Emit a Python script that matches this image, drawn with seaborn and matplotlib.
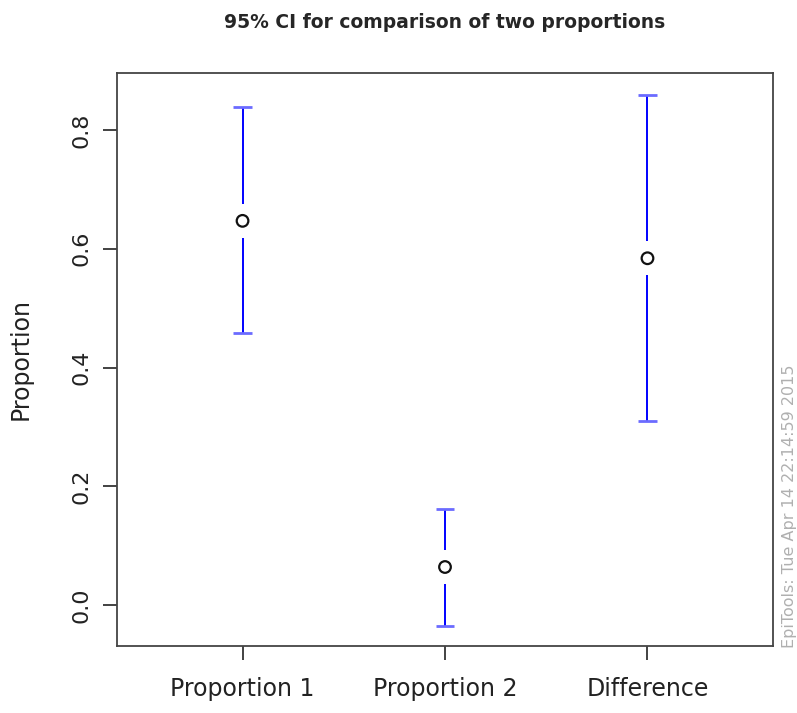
import numpy as np
import pandas as pd
import matplotlib
matplotlib.use("Agg")
import matplotlib.pyplot as plt
import seaborn as sns

# values
categories = ["Proportion 1", "Proportion 2", "Difference"]
estimates = [0.647, 0.064, 0.584]
lower = [0.458, -0.035, 0.310]
upper = [0.839, 0.162, 0.859]
y_ticks = [0.0, 0.2, 0.4, 0.6, 0.8]

sns.set_theme(style="white")
plt.rcParams["font.family"] = ["DejaVu Sans"]

df = pd.DataFrame({"group": categories, "est": estimates, "lo": lower, "hi": upper})
pos = np.arange(len(categories))

fig = plt.figure(figsize=(7.97, 7.13), dpi=100)
ax = fig.add_axes([0.1468, 0.094, 0.8231, 0.8036])

# CI lines, broken around the point marker
gap = 0.029
ax.vlines(pos, df["est"] + gap, df["hi"], color="#0000ff", lw=1.4, zorder=2)
ax.vlines(pos, df["lo"], df["est"] - gap, color="#0000ff", lw=1.4, zorder=2)
cap = 0.045
ax.hlines(df["hi"], pos - cap, pos + cap, color="#6b6bff", lw=2.0, zorder=2)
ax.hlines(df["lo"], pos - cap, pos + cap, color="#6b6bff", lw=2.0, zorder=2)

sns.scatterplot(x=pos, y=df["est"], ax=ax, marker="o", s=70,
                facecolor="none", edgecolor="#111111", linewidth=1.6, zorder=3)

ax.set_xlim(-0.62, 2.62)
ax.set_ylim(-0.069, 0.896)
ax.set_xticks(pos)
ax.set_xticklabels(categories, fontsize=17, color="#222222")
ax.set_yticks(y_ticks)
ax.set_yticklabels([f"{v:.1f}" for v in y_ticks], rotation=90, va="center",
                   fontsize=16, color="#222222")
ax.tick_params(axis="both", length=10, width=1.2, color="#222222",
               direction="out", bottom=True, left=True)
ax.tick_params(axis="x", pad=12)
ax.tick_params(axis="y", pad=8)
for s in ax.spines.values():
    s.set_color("#444444")
    s.set_linewidth(1.3)

ax.set_xlabel("")
ax.set_ylabel("Proportion", fontsize=17, color="#222222", labelpad=28)
ax.grid(False)

fig.text(0.558, 0.968, "95% CI for comparison of two proportions",
         ha="center", va="center", fontsize=13.5, fontweight="bold")
fig.text(0.990, 0.091, "EpiTools: Tue Apr 14 22:14:59 2015", rotation=90,
         ha="center", va="bottom", fontsize=11.5, color="#b0b0b0")

fig.savefig("out.png", dpi=100)
